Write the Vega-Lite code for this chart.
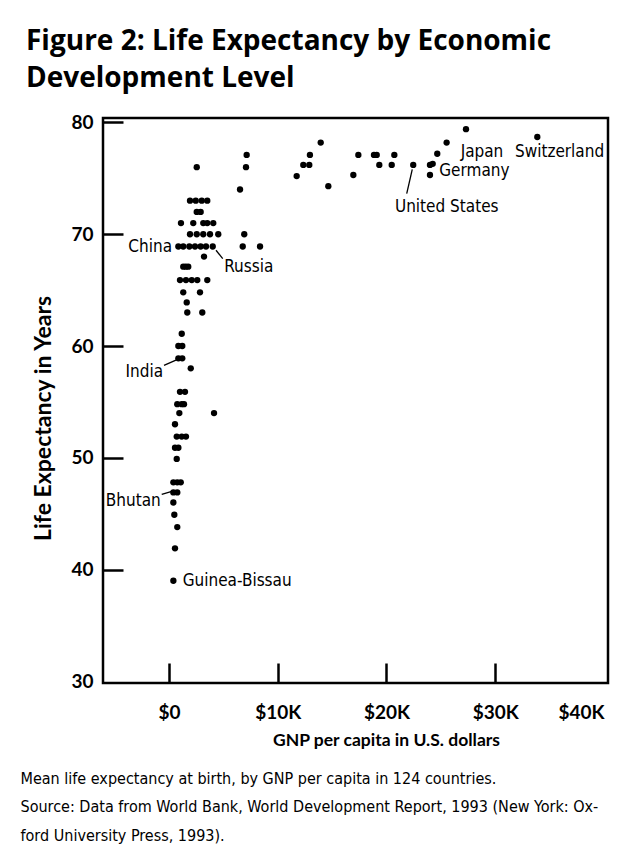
{
  "$schema": "https://vega.github.io/schema/vega-lite/v6.json",
  "width": 505,
  "height": 565,
  "autosize": {"type": "none"},
  "padding": {"left": 103, "top": 118, "right": 11, "bottom": 177},
  "background": "white",
  "config": {
    "view": {"stroke": "black", "strokeWidth": 2.5},
    "axis": {"grid": false, "domain": false}
  },
  "title": {
    "text": ["Figure 2: Life Expectancy by Economic", "Development Level"],
    "anchor": "start",
    "frame": "group",
    "dx": -77,
    "offset": 20,
    "font": "Open Sans",
    "fontSize": 28,
    "fontWeight": "bold",
    "lineHeight": 37,
    "color": "black"
  },
  "datasets": {
    "countries": [
      {"gnp": 2550, "life": 76.0}, {"gnp": 7140, "life": 77.1}, {"gnp": 7080, "life": 76.0},
      {"gnp": 6530, "life": 74.0}, {"gnp": 6920, "life": 70.0}, {"gnp": 6780, "life": 68.9},
      {"gnp": 8370, "life": 68.9}, {"gnp": 11740, "life": 75.2}, {"gnp": 12350, "life": 76.2},
      {"gnp": 12900, "life": 76.2}, {"gnp": 12960, "life": 77.1}, {"gnp": 13950, "life": 78.2},
      {"gnp": 14650, "life": 74.3}, {"gnp": 16950, "life": 75.3}, {"gnp": 17410, "life": 77.1},
      {"gnp": 18850, "life": 77.1}, {"gnp": 19100, "life": 77.1}, {"gnp": 20720, "life": 77.1},
      {"gnp": 19340, "life": 76.2}, {"gnp": 20480, "life": 76.2}, {"gnp": 22460, "life": 76.2},
      {"gnp": 24000, "life": 76.2}, {"gnp": 24250, "life": 76.3}, {"gnp": 24000, "life": 75.3},
      {"gnp": 24670, "life": 77.2}, {"gnp": 25530, "life": 78.2}, {"gnp": 27310, "life": 79.4},
      {"gnp": 33870, "life": 78.7},
      {"gnp": 1930, "life": 73.0}, {"gnp": 2460, "life": 73.0}, {"gnp": 3010, "life": 73.0}, {"gnp": 3520, "life": 73.0},
      {"gnp": 2550, "life": 72.0}, {"gnp": 2910, "life": 72.0},
      {"gnp": 1100, "life": 71.0}, {"gnp": 2230, "life": 71.0}, {"gnp": 3150, "life": 71.0}, {"gnp": 3520, "life": 71.0}, {"gnp": 4070, "life": 71.0},
      {"gnp": 1930, "life": 70.0}, {"gnp": 2550, "life": 70.0}, {"gnp": 3150, "life": 70.0}, {"gnp": 3770, "life": 70.0}, {"gnp": 4530, "life": 70.0},
      {"gnp": 860, "life": 68.9}, {"gnp": 1310, "life": 68.9}, {"gnp": 1870, "life": 68.9}, {"gnp": 2390, "life": 68.9}, {"gnp": 2910, "life": 68.9}, {"gnp": 3400, "life": 68.9}, {"gnp": 4020, "life": 68.9},
      {"gnp": 3220, "life": 68.0},
      {"gnp": 1310, "life": 67.1}, {"gnp": 1540, "life": 67.1}, {"gnp": 1770, "life": 67.1},
      {"gnp": 1010, "life": 65.9}, {"gnp": 1560, "life": 65.9}, {"gnp": 2090, "life": 65.9}, {"gnp": 2600, "life": 65.9}, {"gnp": 3520, "life": 65.9},
      {"gnp": 1310, "life": 64.8}, {"gnp": 2850, "life": 64.8},
      {"gnp": 1630, "life": 63.9},
      {"gnp": 1680, "life": 63.0}, {"gnp": 3060, "life": 63.0},
      {"gnp": 1170, "life": 61.1},
      {"gnp": 860, "life": 60.0}, {"gnp": 1220, "life": 60.0},
      {"gnp": 860, "life": 58.9}, {"gnp": 1220, "life": 58.9},
      {"gnp": 2000, "life": 58.0},
      {"gnp": 1010, "life": 55.9}, {"gnp": 1470, "life": 55.9},
      {"gnp": 760, "life": 54.8}, {"gnp": 1170, "life": 54.8}, {"gnp": 1380, "life": 54.8},
      {"gnp": 950, "life": 54.0}, {"gnp": 4140, "life": 54.0},
      {"gnp": 550, "life": 53.0},
      {"gnp": 710, "life": 51.9}, {"gnp": 1170, "life": 51.9}, {"gnp": 1560, "life": 51.9},
      {"gnp": 550, "life": 50.9}, {"gnp": 860, "life": 50.9},
      {"gnp": 710, "life": 49.9},
      {"gnp": 400, "life": 47.8}, {"gnp": 760, "life": 47.8}, {"gnp": 1080, "life": 47.8},
      {"gnp": 400, "life": 46.9}, {"gnp": 760, "life": 46.9},
      {"gnp": 400, "life": 46.0},
      {"gnp": 490, "life": 44.9},
      {"gnp": 760, "life": 43.8},
      {"gnp": 550, "life": 41.9},
      {"gnp": 400, "life": 39.0}
    ],
    "labels": [
      {"label": "China", "gnp": 280, "life": 68.9, "side": "right"},
      {"label": "India", "gnp": -550, "life": 57.7, "side": "right"},
      {"label": "Bhutan", "gnp": -760, "life": 46.1, "side": "right"},
      {"label": "Russia", "gnp": 5080, "life": 67.1, "side": "left"},
      {"label": "Guinea-Bissau", "gnp": 1260, "life": 39.0, "side": "left"},
      {"label": "Japan", "gnp": 26820, "life": 77.4, "side": "left"},
      {"label": "Switzerland", "gnp": 31810, "life": 77.4, "side": "left"},
      {"label": "Germany", "gnp": 24850, "life": 75.7, "side": "left"},
      {"label": "United States", "gnp": 20780, "life": 72.45, "side": "left"}
    ],
    "leaders": [
      {"label": "Russia", "gnp": 4320, "life": 68.57, "gnp2": 4940, "life2": 67.82},
      {"label": "India", "gnp": -460, "life": 58.27, "gnp2": 950, "life2": 58.87},
      {"label": "Bhutan", "gnp": -670, "life": 46.72, "gnp2": 340, "life2": 47.02},
      {"label": "United States", "gnp": 22370, "life": 75.8, "gnp2": 21860, "life2": 73.64}
    ]
  },
  "resolve": {"axis": {"x": "independent", "y": "independent"}},
  "layer": [
    {
      "data": {"name": "countries"},
      "mark": {"type": "circle", "size": 40, "color": "black", "opacity": 1},
      "encoding": {
        "x": {
          "field": "gnp", "type": "quantitative",
          "scale": {"domain": [-6070, 40370], "nice": false, "zero": false},
          "axis": {
            "orient": "bottom",
            "values": [0, 10000, 20000, 30000, 40000],
            "labelExpr": "datum.value == 0 ? '$0' : '$' + (datum.value / 1000) + 'K'",
            "tickSize": -20, "tickWidth": 2.5, "tickColor": "black",
            "tickOpacity": {"condition": {"test": "datum.value == 40000", "value": 0}, "value": 1},
            "labelPadding": 40, "labelFlush": 10,
            "labelFont": "Lato", "labelFontSize": 19, "labelFontWeight": "bold", "labelColor": "black",
            "title": "GNP per capita in U.S. dollars",
            "titleFont": "Lato", "titleFontSize": 17.5, "titleFontWeight": "bold", "titleColor": "black",
            "titleX": 283, "titleY": 62, "titleAlign": "center", "titleBaseline": "alphabetic"
          }
        },
        "y": {
          "field": "life", "type": "quantitative",
          "scale": {"domain": [29.85, 80.4], "nice": false, "zero": false},
          "axis": {
            "orient": "left",
            "values": [30, 40, 50, 60, 70, 80],
            "tickSize": -20, "tickWidth": 2.5, "tickColor": "black",
            "tickOpacity": {"condition": {"test": "datum.value == 30", "value": 0}, "value": 1},
            "labelPadding": 30,
            "labelFont": "Lato", "labelFontSize": 19, "labelFontWeight": "bold", "labelColor": "black",
            "title": "Life Expectancy in Years",
            "titleFont": "Lato", "titleFontSize": 23, "titleFontWeight": "bold", "titleColor": "black",
            "titleX": -60, "titleY": 300, "titleAlign": "center", "titleBaseline": "middle", "titleAngle": -90
          }
        }
      }
    },
    {
      "data": {"name": "leaders"},
      "mark": {"type": "rule", "color": "black", "strokeWidth": 1.3},
      "encoding": {
        "x": {
          "field": "gnp", "type": "quantitative",
          "axis": {
            "orient": "bottom",
            "domain": false, "ticks": false, "labels": false, "grid": false,
            "title": [
              "Mean life expectancy at birth, by GNP per capita in 124 countries.",
              "Source: Data from World Bank, World Development Report, 1993 (New York: Ox-",
              "ford University Press, 1993)."
            ],
            "titleFont": "DejaVu Sans Condensed, Liberation Sans Narrow, sans-serif", "titleFontSize": 16, "titleFontWeight": "normal", "titleColor": "black",
            "titleX": -83, "titleY": 100, "titleAlign": "left", "titleBaseline": "alphabetic", "titleLineHeight": 28.5, "titleAngle": 0
          }
        },
        "y": {"field": "life", "type": "quantitative", "axis": null},
        "x2": {"field": "gnp2"},
        "y2": {"field": "life2"}
      }
    },
    {
      "data": {"name": "labels"},
      "transform": [{"filter": "datum.side == 'right'"}],
      "mark": {"type": "text", "align": "right", "baseline": "middle", "font": "DejaVu Sans Condensed, Liberation Sans Narrow, sans-serif", "fontSize": 17, "color": "black"},
      "encoding": {
        "x": {"field": "gnp", "type": "quantitative", "axis": null},
        "y": {"field": "life", "type": "quantitative", "axis": null},
        "text": {"field": "label"}
      }
    },
    {
      "data": {"name": "labels"},
      "transform": [{"filter": "datum.side == 'left'"}],
      "mark": {"type": "text", "align": "left", "baseline": "middle", "font": "DejaVu Sans Condensed, Liberation Sans Narrow, sans-serif", "fontSize": 17, "color": "black"},
      "encoding": {
        "x": {"field": "gnp", "type": "quantitative", "axis": null},
        "y": {"field": "life", "type": "quantitative", "axis": null},
        "text": {"field": "label"}
      }
    }
  ]
}
